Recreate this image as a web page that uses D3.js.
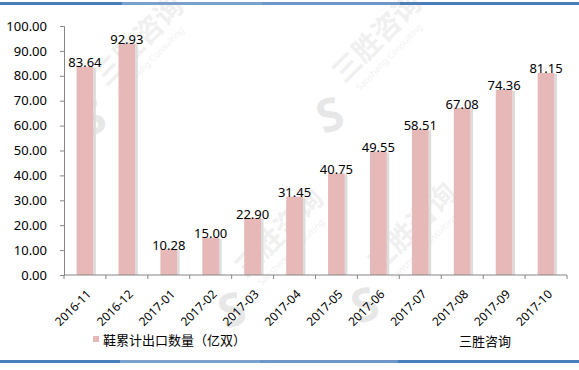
<!doctype html>
<html lang='zh'>
  <head>
    <meta charset='utf-8'>
    <title>鞋累计出口数量</title>
    <script src='https://d3js.org/d3.v7.min.js'></script>
    <style>
      html, body { margin: 0; padding: 0; background: #fff; }
      svg { display: block; }
    </style>
  </head>
  <body>
    <svg width='579' height='370'></svg>
    <script>
      // data
      var months = ['2016-11', '2016-12', '2017-01', '2017-02', '2017-03', '2017-04',
                    '2017-05', '2017-06', '2017-07', '2017-08', '2017-09', '2017-10'];
      var values = [83.64, 92.93, 10.28, 15.00, 22.90, 31.45, 40.75, 49.55, 58.51, 67.08, 74.36, 81.15];
      var yTicks = [0, 10, 20, 30, 40, 50, 60, 70, 80, 90, 100];
      var seriesName = '鞋累计出口数量（亿双）';
      var source = '三胜咨询';

      var data = months.map(function(m, i) { return {month: m, value: values[i]}; });

      var svg = d3.select('svg'),
          fontNum = "'Noto Sans', 'DejaVu Sans', sans-serif",
          fontCjk = "'Noto Sans CJK SC', 'Noto Sans', sans-serif",
          plotL = 64, plotR = 567, plotT = 26, plotB = 275;

      // frame lines top and bottom
      var topSegs = [[0, 122, '#4a7ebb'], [122, 262, '#7ba1cf'], [262, 400, '#6e97c7'], [400, 579, '#4a7ebb']];
      topSegs.forEach(function(s) {
        svg.append('rect').attr('x', s[0]).attr('y', 2).attr('width', s[1] - s[0]).attr('height', 3).attr('fill', s[2]);
      });
      var botSegs = [[0, 120, '#4a7ebb'], [120, 260, '#7ba1cf'], [260, 398, '#6e97c7'], [398, 579, '#4a7ebb']];
      botSegs.forEach(function(s) {
        svg.append('rect').attr('x', s[0]).attr('y', 360).attr('width', s[1] - s[0]).attr('height', 3).attr('fill', s[2]);
      });

      // faint watermarks
      var marks = [[92, 118], [330, 115], [232, 310], [365, 305]];
      marks.forEach(function(p) {
        var w = svg.append('g').attr('transform', 'translate(' + p[0] + ',' + p[1] + ')').attr('opacity', 0.12);
        w.append('text')
          .attr('text-anchor', 'middle').attr('dy', '0.35em')
          .attr('font-family', fontNum).attr('font-weight', 'bold')
          .attr('font-size', 46).attr('fill', '#444')
          .attr('transform', 'rotate(-20)')
          .text('S');
        w.append('text')
          .attr('x', 32).attr('y', -12)
          .attr('font-family', fontCjk).attr('font-weight', 'bold')
          .attr('font-size', 28).attr('fill', '#888')
          .attr('transform', 'rotate(-45)')
          .text('三胜咨询');
        w.append('text')
          .attr('x', 38).attr('y', 4)
          .attr('font-family', fontNum)
          .attr('font-size', 9).attr('fill', '#888')
          .attr('transform', 'rotate(-45)')
          .text('Sansheng Consulting');
      });

      var x = d3.scaleBand()
                .domain(months)
                .range([plotL, plotR])
                .padding(0);

      var y = d3.scaleLinear()
                .domain([0, 100])
                .range([plotB, plotT]);

      var bw = x.bandwidth() * 0.4;

      // bars with a soft shadow on the right
      svg.append('g').selectAll('rect')
        .data(data)
        .enter().append('rect')
        .attr('x', function(d) { return x(d.month) + x.bandwidth() / 2 + bw / 2; })
        .attr('y', function(d) { return y(d.value) + 1; })
        .attr('width', 2.5)
        .attr('height', function(d) { return plotB - y(d.value) - 1; })
        .attr('fill', '#dcdcdc');

      svg.append('g').selectAll('rect')
        .data(data)
        .enter().append('rect')
        .attr('x', function(d) { return x(d.month) + x.bandwidth() / 2 - bw / 2; })
        .attr('y', function(d) { return y(d.value); })
        .attr('width', bw)
        .attr('height', function(d) { return plotB - y(d.value); })
        .attr('fill', '#e6b9b8');

      // y axis
      var ya = svg.append('g')
        .attr('transform', 'translate(' + plotL + ',0)')
        .call(d3.axisLeft(y).tickValues(yTicks).tickSize(4).tickPadding(13)
              .tickFormat(function(d) { return d.toFixed(2); }));
      ya.select('.domain').attr('stroke', '#868686');
      ya.selectAll('.tick line').attr('stroke', '#868686');
      ya.selectAll('text').attr('font-family', fontNum).attr('font-size', 13).attr('fill', '#000');

      // x axis with ticks at band edges
      var xa = svg.append('g')
        .attr('transform', 'translate(0,' + plotB + ')');
      xa.append('line')
        .attr('x1', plotL).attr('x2', plotR)
        .attr('stroke', '#868686');
      xa.selectAll('.edge')
        .data(months.concat(['end']))
        .enter().append('line')
        .attr('x1', function(d, i) { return i < months.length ? x(d) : plotR; })
        .attr('x2', function(d, i) { return i < months.length ? x(d) : plotR; })
        .attr('y1', 0).attr('y2', 4)
        .attr('stroke', '#868686');
      xa.selectAll('.lbl')
        .data(months)
        .enter().append('text')
        .attr('transform', function(d) {
          return 'translate(' + (x(d) + x.bandwidth() / 2 + 4) + ',17) rotate(-45)';
        })
        .attr('text-anchor', 'end')
        .attr('dy', '0.35em')
        .attr('font-family', fontNum).attr('font-size', 12)
        .attr('fill', '#000')
        .text(function(d) { return d; });

      // value labels
      svg.append('g').selectAll('text')
        .data(data)
        .enter().append('text')
        .attr('x', function(d) { return x(d.month) + x.bandwidth() / 2; })
        .attr('y', function(d) { return y(d.value) - 4; })
        .attr('text-anchor', 'middle')
        .attr('dy', '0.35em')
        .attr('font-family', fontNum).attr('font-size', 13)
        .attr('fill', '#000')
        .text(function(d) { return d.value.toFixed(2); });

      // legend
      svg.append('rect')
        .attr('x', 93).attr('y', 336)
        .attr('width', 6).attr('height', 6)
        .attr('fill', '#e6b9b8');
      svg.append('text')
        .attr('x', 103).attr('y', 340)
        .attr('dy', '0.35em')
        .attr('font-family', fontCjk).attr('font-size', 13)
        .attr('fill', '#000')
        .text(seriesName);
      svg.append('text')
        .attr('x', 459).attr('y', 341)
        .attr('dy', '0.35em')
        .attr('font-family', fontCjk).attr('font-size', 13)
        .attr('fill', '#000')
        .text(source);
    </script>
  </body>
</html>
